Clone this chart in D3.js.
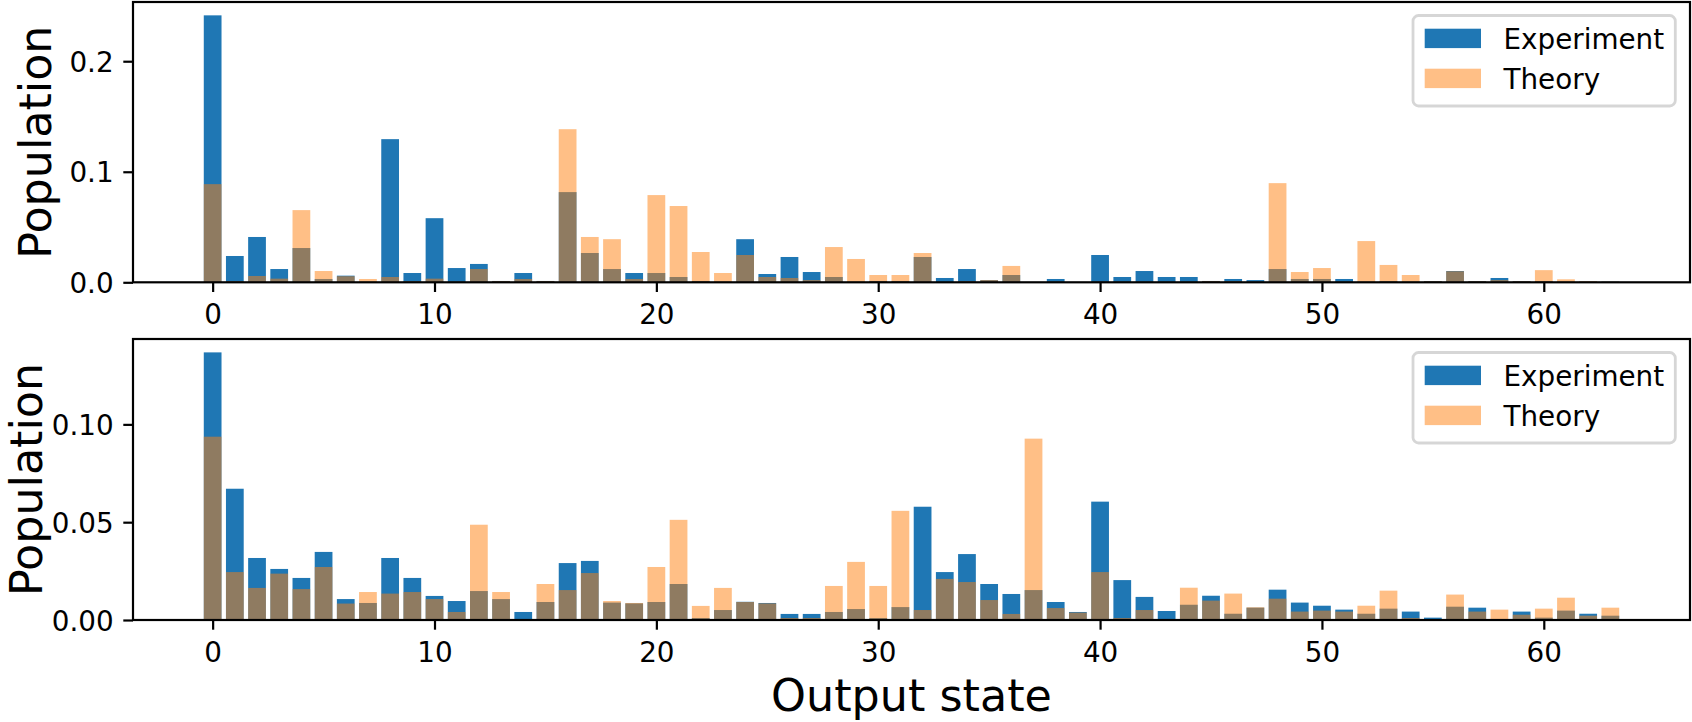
<!DOCTYPE html>
<html>
<head>
<meta charset="utf-8">
<script src="https://cdn.jsdelivr.net/npm/d3@7"></script>
<style>
  html, body { margin: 0; padding: 0; background: #fff; }
  svg { display: block; }
  text { font-family: "DejaVu Sans", sans-serif; fill: #000; }
</style>
</head>
<body>
<svg id="chart" width="1692" height="722"></svg>
<script>
// ---------------- data ----------------
const states = d3.range(64);
const xTicks = [0, 10, 20, 30, 40, 50, 60];
const seriesNames = ["Experiment", "Theory"];

const experimentTop = [0.2415,0.0238,0.041,0.012,0.031,0.003,0.006,0.0005,0.1295,0.0084,0.058,0.0129,0.0166,0.0012,0.0084,0.0012,
  0.0816,0.0265,0.012,0.0084,0.0084,0.0048,0.0012,0.0005,0.039,0.0075,0.0229,0.0093,0.0048,0.0005,0.0012,0.0012,
  0.0229,0.0039,0.012,0.002,0.0066,0.0003,0.003,0.0003,0.0247,0.0048,0.0102,0.0048,0.0048,0.0012,0.003,0.002,
  0.012,0.003,0.003,0.003,0.0005,0.001,0.0005,0.001,0.0102,0.001,0.0039,0.001,0.001,0.0005,0.0005,0.0005];
const theoryTop = [0.0888,0.001,0.0057,0.0033,0.0653,0.0102,0.0055,0.003,0.0048,0.001,0.0033,0.0005,0.012,0.0012,0.003,0.0012,
  0.1385,0.041,0.039,0.003,0.0789,0.069,0.0274,0.0084,0.0247,0.0048,0.0039,0.002,0.0319,0.0211,0.0066,0.0066,
  0.0265,0.0003,0.001,0.002,0.0148,0.0003,0.0005,0.0003,0.0005,0.0005,0.0005,0.0005,0.0005,0.0012,0.001,0.0005,
  0.0897,0.0093,0.0129,0.0005,0.0373,0.0157,0.0066,0.001,0.0100,0.001,0.002,0.001,0.011,0.0027,0.001,0.0005];
const yTicksTop = [0.0, 0.1, 0.2];

const experimentBottom = [0.1368,0.0671,0.0317,0.0261,0.0215,0.0348,0.0107,0.0087,0.0317,0.0215,0.0123,0.0097,0.0148,0.0107,0.0041,0.0092,
  0.0291,0.0302,0.0089,0.0085,0.0092,0.0184,0.001,0.0051,0.0093,0.0087,0.0031,0.0031,0.0041,0.0056,0.001,0.0066,
  0.0579,0.0245,0.0337,0.0184,0.0133,0.0153,0.0092,0.0041,0.0605,0.0204,0.0118,0.0046,0.0078,0.0124,0.0032,0.0063,
  0.0155,0.0089,0.0073,0.0053,0.0032,0.0058,0.0043,0.0012,0.0068,0.0063,0.0003,0.0043,0.0012,0.0048,0.0032,0.0022];
const theoryBottom = [0.0937,0.0245,0.0164,0.0237,0.0158,0.0271,0.0084,0.0143,0.0135,0.0143,0.0107,0.0041,0.0487,0.0143,0.0003,0.0184,
  0.0153,0.024,0.0097,0.0087,0.0271,0.0512,0.0072,0.0164,0.0092,0.0085,0.001,0.001,0.0174,0.0297,0.0174,0.0558,
  0.0051,0.021,0.0194,0.0102,0.0031,0.0927,0.0061,0.0038,0.0245,0.001,0.0051,0.0003,0.0165,0.0099,0.0135,0.0065,
  0.0109,0.0043,0.0048,0.0043,0.0073,0.015,0.001,0.0003,0.013,0.0043,0.0053,0.0027,0.0058,0.0114,0.0022,0.0063];
const yTicksBottom = [0.00, 0.05, 0.10];

// ---------------- layout ----------------
const svg = d3.select("#chart");
const BLUE = "#1f77b4", ORANGE = "#ff7f0e";
const tickFont = 27.8, labelFont = 44.4;
const left = 133, right = 1690;
const barWidth = 0.8;

const xMin = -barWidth / 2, xMax = states.length - 1 + barWidth / 2;
const xPad = (xMax - xMin) * 0.05;
const x = d3.scaleLinear().domain([xMin - xPad, xMax + xPad]).range([left, right]);

const panels = [
  { exp: experimentTop, th: theoryTop, ticks: yTicksTop, fmt: d3.format(".1f"), top: 2, bottom: 282.3, ylabX: 51 },
  { exp: experimentBottom, th: theoryBottom, ticks: yTicksBottom, fmt: d3.format(".2f"), top: 339, bottom: 620, ylabX: 42 }
];

panels.forEach(p => {
  const yMax = d3.max(p.exp.concat(p.th)) * 1.05;
  const y = d3.scaleLinear().domain([0, yMax]).range([p.bottom, p.top]);
  const g = svg.append("g");

  // bars: experiment first, theory (alpha 0.5) on top
  g.selectAll("rect.exp").data(states).join("rect")
    .attr("class", "exp")
    .attr("x", d => x(d - barWidth / 2))
    .attr("width", x(barWidth) - x(0))
    .attr("y", d => y(p.exp[d]))
    .attr("height", d => y(0) - y(p.exp[d]))
    .attr("fill", BLUE);
  g.selectAll("rect.th").data(states).join("rect")
    .attr("class", "th")
    .attr("x", d => x(d - barWidth / 2))
    .attr("width", x(barWidth) - x(0))
    .attr("y", d => y(p.th[d]))
    .attr("height", d => y(0) - y(p.th[d]))
    .attr("fill", ORANGE)
    .attr("fill-opacity", 0.5);

  // x axis
  const xa = g.append("g").attr("transform", `translate(0,${p.bottom})`)
    .call(d3.axisBottom(x).tickValues(xTicks).tickFormat(d3.format("d")).tickSize(9.7).tickPadding(9.7));
  xa.select(".domain").remove();
  xa.selectAll("line").attr("stroke", "#000").attr("stroke-width", 2.2);
  xa.selectAll("text").attr("font-size", tickFont).attr("dy", "0.81em")
    .style("font-family", "DejaVu Sans, sans-serif").attr("fill", "#000");

  // y axis
  const ya = g.append("g").attr("transform", `translate(${left},0)`)
    .call(d3.axisLeft(y).tickValues(p.ticks).tickFormat(p.fmt).tickSize(9.7).tickPadding(9.7));
  ya.select(".domain").remove();
  ya.selectAll("line").attr("stroke", "#000").attr("stroke-width", 2.2);
  ya.selectAll("text").attr("font-size", tickFont).attr("dy", "0.36em")
    .style("font-family", "DejaVu Sans, sans-serif").attr("fill", "#000");

  // frame
  g.append("rect")
    .attr("x", left).attr("y", p.top)
    .attr("width", right - left).attr("height", p.bottom - p.top)
    .attr("fill", "none").attr("stroke", "#000").attr("stroke-width", 2.2);

  // y label
  g.append("text")
    .attr("transform", `translate(${p.ylabX},${(p.top + p.bottom) / 2}) rotate(-90)`)
    .attr("text-anchor", "middle")
    .attr("font-size", labelFont)
    .text("Population");

  // legend
  const lx = 1413, ly = p.top + 13.5, lw = 262.3, lh = 90.5;
  const lg = g.append("g");
  lg.append("rect")
    .attr("x", lx).attr("y", ly).attr("width", lw).attr("height", lh)
    .attr("rx", 5.6).attr("ry", 5.6)
    .attr("fill", "#fff").attr("fill-opacity", 0.8)
    .attr("stroke", "#cccccc").attr("stroke-opacity", 0.8).attr("stroke-width", 2.8);
  const colors = [BLUE, ORANGE];
  const opac = [1, 0.5];
  seriesNames.forEach((name, i) => {
    const py = ly + 13.2 + i * 40;
    lg.append("rect")
      .attr("x", lx + 11.7).attr("y", py)
      .attr("width", 56.3).attr("height", 19.4)
      .attr("fill", colors[i]).attr("fill-opacity", opac[i]);
    lg.append("text")
      .attr("x", lx + 90.5).attr("y", py + 20.5)
      .attr("font-size", tickFont)
      .text(name);
  });
});

// x label
svg.append("text")
  .attr("x", (left + right) / 2).attr("y", 711)
  .attr("text-anchor", "middle")
  .attr("font-size", labelFont)
  .text("Output state");
</script>
</body>
</html>
